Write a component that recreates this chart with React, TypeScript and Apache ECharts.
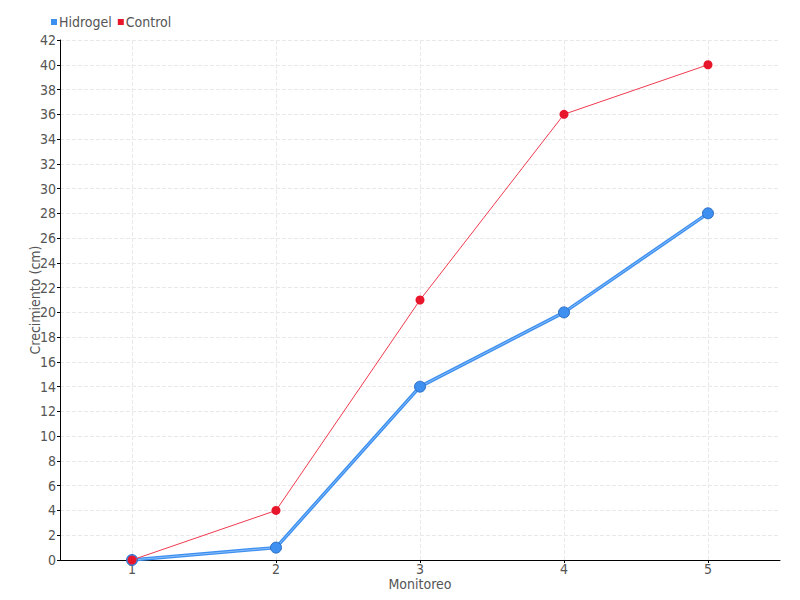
import React, { useEffect, useRef } from "react";
import * as echarts from "echarts";

const categories = ["1", "2", "3", "4", "5"];
const hidrogel = [0, 1, 14, 20, 28];
const control = [0, 4, 21, 36, 40];

const FONT = "DejaVu Sans Condensed";
const GRAY = "#555555";

export default function App() {
  const ref = useRef<HTMLDivElement>(null);
  useEffect(() => {
    if (!ref.current) return;
    const chart = echarts.init(ref.current, undefined, { renderer: "svg" });
    chart.setOption({
      animation: false,
      textStyle: { fontFamily: FONT },
      legend: {
        left: 46,
        top: 10,
        itemWidth: 6,
        itemHeight: 6,
        itemGap: 6,
        icon: "rect",
        textStyle: { fontFamily: FONT, fontSize: 14, color: GRAY, padding: [0, 0, 0, -3] },
        data: ["Hidrogel", "Control"],
      },
      grid: { left: 60, right: 20, top: 40, bottom: 40, containLabel: false },
      xAxis: {
        type: "category",
        data: categories,
        boundaryGap: true,
        name: "Monitoreo",
        nameLocation: "middle",
        nameGap: 17,
        nameMoveOverlap: false,
        nameTextStyle: { fontFamily: FONT, fontSize: 14, color: GRAY },
        axisLine: { lineStyle: { color: "#000", width: 1 } },
        axisTick: { show: true, alignWithLabel: true, length: 3, lineStyle: { color: "#000" } },
        axisLabel: { fontFamily: FONT, fontSize: 14, color: GRAY, margin: 2 },
        splitLine: { show: false },
      },
      yAxis: {
        type: "value",
        min: 0,
        max: 42,
        interval: 2,
        name: "Crecimiento (cm)",
        nameLocation: "middle",
        nameGap: 18,
        nameMoveOverlap: false,
        nameTextStyle: { fontFamily: FONT, fontSize: 14, color: GRAY },
        axisLine: { show: true, lineStyle: { color: "#000", width: 1 } },
        axisTick: { show: true, length: 3, lineStyle: { color: "#000" } },
        axisLabel: { fontFamily: FONT, fontSize: 14, color: GRAY, margin: 4 },
        splitLine: { show: true, lineStyle: { color: "#e8e8e8", type: "dashed" } },
      },
      series: [
        {
          name: "Hidrogel",
          type: "line",
          data: hidrogel,
          showSymbol: false,
          symbol: "circle",
          itemStyle: { color: "#3d8ff0" },
          lineStyle: { color: "#3d8ff0", width: 3.5 },
          z: 2,
          markLine: {
            silent: true,
            symbol: ["none", "none"],
            label: { show: false },
            lineStyle: { color: "#e8e8e8", type: "dashed", width: 1 },
            data: categories.map((c) => ({ xAxis: c })),
            z: 0,
          },
        },
        {
          name: "Hidrogel-highlight",
          type: "line",
          data: hidrogel,
          silent: true,
          symbol: "circle",
          symbolSize: 11,
          itemStyle: { color: "#3d8ff0", borderColor: "#2d6fc4", borderWidth: 1 },
          lineStyle: { color: "#86bdf7", width: 1 },
          z: 3,
        },
        {
          name: "Control",
          type: "line",
          data: control,
          symbol: "circle",
          symbolSize: 9,
          itemStyle: { color: "#e8162a" },
          lineStyle: { color: "#f03a4e", width: 1 },
          z: 4,
        },
      ],
    });
    return () => chart.dispose();
  }, []);
  return <div ref={ref} style={{ width: 800, height: 600, position: "absolute", left: 0, top: 0 }} />;
}
